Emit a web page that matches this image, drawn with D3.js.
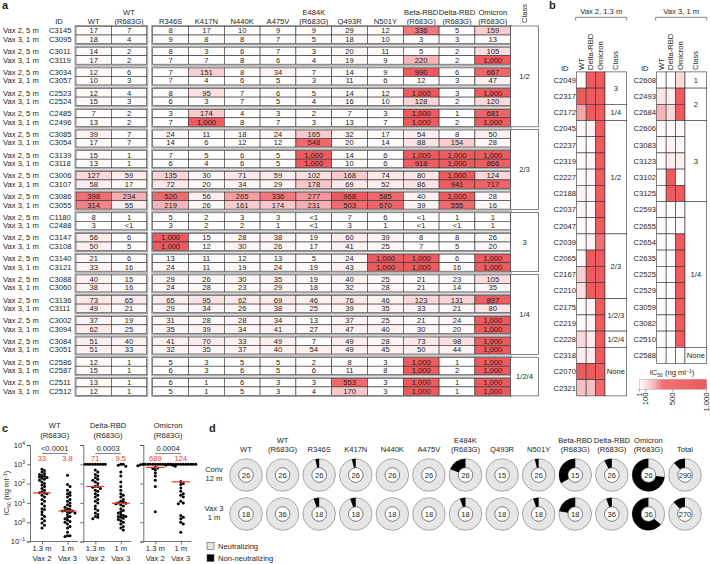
<!DOCTYPE html>
<html>
<head>
<meta charset="utf-8">
<script src="https://cdn.jsdelivr.net/npm/d3@7"></script>
<style>
body{margin:0;background:#fff}
svg{font-family:"Liberation Sans",Arial,sans-serif}
text{font-size:7.6px;fill:#231f20}
.panel{font-size:11px;font-weight:bold}
</style>
</head>
<body>
<svg id="fig" width="710" height="564"></svg>
<script>
// ---------- panel a data
const ROW_GROUPS = ["Vax 2, 5 m","Vax 3, 1 m"];
const IDS_A = ["C3145","C3095","C3011","C3119","C3034","C3057","C2523","C2524","C2485","C2496",
  "C3085","C3054","C3139","C3118","C3006","C3107","C3086","C3055","C1180","C2488",
  "C3147","C3108","C3140","C3121","C3088","C3060","C3136","C3111","C3002","C3094",
  "C3084","C3051","C2586","C2587","C2511","C2512"];
const COLS_A1 = ["WT","WT\n(R683G)"];
const COLS_A2 = ["R346S","K417N","N440K","A475V","E484K\n(R683G)","Q493R","N501Y","Beta-RBD\n(R683G)","Delta-RBD\n(R683G)","Omicron\n(R683G)"];
// 0 stands for "<1"
const IC50_A = [
  [17,7,8,17,10,9,9,29,12,336,5,159],
  [18,4,9,8,8,7,5,18,10,3,3,13],
  [14,2,8,3,6,7,3,20,11,5,2,105],
  [17,2,7,7,8,6,4,19,9,220,2,1000],
  [12,6,7,151,8,34,7,14,9,990,6,667],
  [10,3,7,4,6,5,3,11,6,12,3,47],
  [12,4,8,95,7,6,5,14,12,1000,3,1000],
  [15,3,6,3,7,5,4,16,10,128,2,120],
  [7,2,3,174,4,3,2,7,3,1000,1,681],
  [13,2,7,1000,8,7,3,13,7,1000,2,1000],
  [39,7,24,11,18,24,165,32,17,54,8,50],
  [17,7,14,6,12,12,548,20,14,88,154,28],
  [15,1,7,5,6,5,1000,14,6,1000,1000,1000],
  [13,1,6,4,6,5,1000,10,6,918,1000,866],
  [127,59,135,30,71,59,102,168,74,80,1000,124],
  [58,17,72,20,34,29,178,69,52,86,941,717],
  [398,234,520,56,265,336,277,968,585,40,1000,28],
  [314,55,219,26,161,174,231,503,670,39,555,16],
  [8,1,5,2,3,3,0,7,6,0,1,1],
  [3,0,3,2,2,1,0,3,1,0,0,1],
  [56,6,1000,15,28,38,19,60,39,8,8,26],
  [50,5,1000,12,30,26,17,41,25,7,5,20],
  [21,6,13,11,12,13,5,24,1000,1000,6,1000],
  [33,16,24,11,19,24,19,43,1000,1000,16,1000],
  [40,15,29,26,30,35,19,40,25,21,23,105],
  [38,16,24,28,23,29,18,32,28,21,14,35],
  [73,65,65,95,62,69,46,76,46,123,131,897],
  [49,21,29,34,26,38,25,39,35,33,21,80],
  [37,19,31,28,28,34,13,37,25,21,24,1000],
  [62,25,35,39,34,41,27,47,40,30,20,1000],
  [51,40,41,70,33,49,7,49,28,73,98,1000],
  [51,33,32,35,37,40,54,49,45,50,44,1000],
  [12,1,5,3,5,5,2,8,3,1000,1,1000],
  [15,1,6,3,6,5,6,11,8,1000,2,1000],
  [13,1,6,1,6,3,3,553,3,1000,1,1000],
  [12,1,5,1,5,3,4,170,3,1000,1,1000]
];
const CLASS_A = ["1/2","2/3","3","1/4","1/2/4"];
const CLASS_A_PAIRS = [5,4,3,4,2];

// ---------- panel b data
const B_COLS = ["WT","Delta-RBD","Omicron"];
const B2_IDS = ["C2049","C2317","C2172","C2045","C2237","C2319","C2227","C2188","C2037","C2047",
  "C2039","C2065","C2167","C2210","C2175","C2219","C2228","C2318","C2070","C2321"];
const B2_IC50 = [[5,1000,1000],[1000,1000,1000],[250,1000,1000],[25,40,1000],[5,15,1000],
  [5,30,1000],[10,30,1000],[40,30,1000],[40,20,1000],[15,15,1000],[5,40,350],[5,1000,1000],
  [150,1000,1000],[100,1000,1000],[5,30,1000],[5,30,1000],[120,60,1000],[60,60,1000],
  [1000,1000,1000],[200,200,600]];
const B2_CLASS = ["3","1/4","1/2","2/3","1/2/3","1/2/4","None"];
const B2_CLASS_N = [2,1,7,4,2,1,3];
const B3_IDS = ["C2608","C2493","C2684","C2606","C3083","C3123","C3102","C3125","C2593","C2655",
  "C2654","C2635","C2525","C2529","C3059","C3082","C2510","C2588"];
const B3_IC50 = [[5,5,120],[80,60,1000],[220,120,1000],[20,20,30],[20,40,30],[10,60,50],
  [5,1000,10],[10,1000,1000],[5,10,20],[5,10,20],[5,5,1000],[5,5,1000],[5,5,1000],
  [5,5,1000],[5,5,1000],[5,5,1000],[5,5,1000],[5,5,10]];
const B3_CLASS = ["1","2","3","1/4","None"];
const B3_CLASS_N = [1,2,5,9,1];
const LEGEND_TICKS = [1,100,500,1000];

// ---------- panel c data
const C_PANELS = ["WT\n(R683G)","Delta-RBD\n(R683G)","Omicron\n(R683G)"];
const C_GROUPS = ["1.3 m\nVax 2","1 m\nVax 3"];
const C_PVALS = ["<0.0001","0.0003","0.0004"];
const C_MEDIANS = [[33,3.8],[71,9.5],[689,124]];
const C_WT_V2 = [550,480,400,330,300,260,240,220,210,190,170,150,120,100,85,70,55,45,38,34,33,30,25,20,15,12,9,7,5,4.5,3.5,2.5,2,1.5,1.2,0.9,0.7,0.5];
const C_WT_V3 = [270,90,70,45,35,30,25,20,15,12,10,8,7,6,5,4.5,4,3.8,3.8,3.5,3.2,3,2.5,2,1.8,1.5,1.3,1.1,1,0.8,0.6,0.5,0.3,0.2,0.2,0.18];
const C_DELTA_V2 = [1000,1000,1000,1000,1000,1000,1000,1000,1000,500,400,300,250,200,170,150,120,100,72,70,65,55,45,40,30,25,20,15,12,10,7,5,4,3,2.5,2,1.8,1.5];
const C_DELTA_V3 = [1000,1000,900,800,400,250,120,70,45,30,25,20,15,12,11,10,9.5,9,8,7,5,4,3.5,3,2.5,2.2,2,2,1.8,1.6,1.4,1.2,1,0.8,0.6,0.5,0.4];
const C_OMI_V2 = [1000,1000,1000,1000,1000,1000,1000,1000,1000,1000,1000,1000,950,900,850,800,700,650,600,500,350,250,150,70,3.5];
const C_OMI_V3 = [1000,1000,1000,1000,1000,1000,1000,1000,1000,1000,1000,1000,900,130,100,90,60,40,30,25,20,12,10,9,2.2,1.8,1.5,1,0.8,0.3];
const C_VALUES = [[C_WT_V2,C_WT_V3],[C_DELTA_V2,C_DELTA_V3],[C_OMI_V2,C_OMI_V3]];

// ---------- panel d data
const D_ANTIGENS = ["WT","WT\n(R683G)","R346S","K417N","N440K","A475V","E484K\n(R683G)","Q493R","N501Y","Beta-RBD\n(R683G)","Delta-RBD\n(R683G)","Omicron\n(R683G)","Total"];
const D_ROWS = ["Conv\n12 m","Vax 3\n1 m"];
const D_CONV_N = [26,26,26,26,26,26,26,15,26,15,26,26,290];
const D_CONV_NON = [0,0,1,1,0,0,5,0,1,5,2,19,34];
const D_VAX3_N = [18,36,18,18,18,18,18,18,18,18,36,36,270];
const D_VAX3_NON = [0,0,1,1,0,0,1,0,1,4,2,23,33];

const svg = d3.select("#fig");
const RED = "#ee5a5e";
const colorIC = d3.scaleLinear()
  .domain([0,100,200,350,1000])
  .range(["#ffffff","#fbdfe1","#f7c0c3","#f07175",RED])
  .clamp(true);
const fmt = v => v === 0 ? "<1" : d3.format(",")(v);

function multiline(sel, label, x, yLast, lh){
  const lines = label.split("\n");
  lines.forEach((l,i)=>{
    sel.append("text").attr("x",x).attr("y",yLast-(lines.length-1-i)*lh)
      .attr("text-anchor","middle").text(l);
  });
}

svg.append("text").attr("class","panel").attr("x",2).attr("y",9).text("a");
svg.append("text").attr("class","panel").attr("x",549).attr("y",9).text("b");
svg.append("text").attr("class","panel").attr("x",2).attr("y",432).text("c");
svg.append("text").attr("class","panel").attr("x",209).attr("y",432).text("d");

// ================= panel a
const gA = svg.append("g");
const xA1 = d3.scaleBand().domain(COLS_A1).range([76,146.7]);
const xA2 = d3.scaleBand().domain(COLS_A2).range([152.7,510.7]);
const yPair = d3.scaleLinear().domain([0,1]).range([26.5,47.2]);
const ROW_H = 8.5;
const CLASS_X = [510.7,538.3];

gA.append("text").attr("x",59).attr("y",23.7).attr("text-anchor","middle").text("ID");
COLS_A1.forEach(c=>multiline(gA,c,xA1(c)+xA1.bandwidth()/2,23.7,8.8));
COLS_A2.forEach(c=>multiline(gA,c,xA2(c)+xA2.bandwidth()/2,23.7,8.8));
gA.append("text").attr("transform",`translate(${(CLASS_X[0]+CLASS_X[1])/2+2.5},23) rotate(-90)`).text("Class");

IDS_A.forEach((id,i)=>{
  const p = Math.floor(i/2), r = i%2;
  const y = yPair(p)+r*ROW_H;
  gA.append("text").attr("x",3).attr("y",y+ROW_H/2+2.7).text(ROW_GROUPS[r]);
  gA.append("text").attr("x",49).attr("y",y+ROW_H/2+2.7).text(id);
});

// outer grey frames for each pair
d3.range(IDS_A.length/2).forEach(p=>{
  [[xA1,COLS_A1],[xA2,COLS_A2]].forEach(([sc,cols])=>{
    gA.append("rect").attr("x",sc.range()[0]-1).attr("y",yPair(p)-1)
      .attr("width",sc.range()[1]-sc.range()[0]+2).attr("height",2*ROW_H+2)
      .attr("fill","none").attr("stroke","#9a9a9a").attr("stroke-width",1);
  });
});

IC50_A.forEach((row,i)=>{
  const p = Math.floor(i/2), r = i%2;
  const y = yPair(p)+r*ROW_H;
  row.forEach((v,j)=>{
    const sc = j<2 ? xA1 : xA2;
    const key = j<2 ? COLS_A1[j] : COLS_A2[j-2];
    gA.append("rect").attr("x",sc(key)).attr("y",y).attr("width",sc.bandwidth()).attr("height",ROW_H)
      .attr("fill",colorIC(v)).attr("stroke","#333").attr("stroke-width",0.6);
    gA.append("text").attr("x",sc(key)+sc.bandwidth()/2).attr("y",y+ROW_H/2+2.7)
      .attr("text-anchor","middle").text(fmt(v));
  });
});

let pStart = 0;
CLASS_A.forEach((c,k)=>{
  const n = CLASS_A_PAIRS[k];
  const y0 = yPair(pStart)-0.5, y1 = yPair(pStart+n-1)+2*ROW_H+0.5;
  gA.append("rect").attr("x",CLASS_X[0]).attr("y",y0).attr("width",CLASS_X[1]-CLASS_X[0]).attr("height",y1-y0)
    .attr("fill","#fff").attr("stroke","#333").attr("stroke-width",0.6);
  gA.append("text").attr("x",(CLASS_X[0]+CLASS_X[1])/2).attr("y",(y0+y1)/2+2.7)
    .attr("text-anchor","middle").text(c);
  pStart += n;
});

// ================= panel b
function heatB(x0, ids, vals, classes, classN, title){
  const g = svg.append("g");
  const x = d3.scaleBand().domain(B_COLS).range([x0, x0+28.3]);
  const cx = [x0+28.3, x0+50];
  const y = d3.scaleBand().domain(ids).range([71.9, 71.9+ids.length*16.2]);
  // bracket title
  g.append("text").attr("x",(x0-1+cx[1])/2).attr("y",14).attr("text-anchor","middle").text(title);
  g.append("path").attr("d",`M${x0-1},20.5V17.3H${cx[1]}V20.5`).attr("fill","none").attr("stroke","#333").attr("stroke-width",0.6);
  g.append("text").attr("x",x0-12).attr("y",70.5).attr("text-anchor","middle").text("ID");
  B_COLS.concat(["Class"]).forEach((c,i)=>{
    const xc = i<3 ? x(c)+x.bandwidth()/2 : (cx[0]+cx[1])/2;
    g.append("text").attr("transform",`translate(${xc+2.6},70) rotate(-90)`).text(c);
  });
  ids.forEach((id,i)=>{
    g.append("text").attr("x",x0-12).attr("y",y(id)+y.bandwidth()/2+2.7).attr("text-anchor","middle").text(id);
    vals[i].forEach((v,j)=>{
      g.append("rect").attr("x",x(B_COLS[j])).attr("y",y(id)).attr("width",x.bandwidth()).attr("height",y.bandwidth())
        .attr("fill",colorIC(v)).attr("stroke","#333").attr("stroke-width",0.6);
    });
  });
  let s = 0;
  classes.forEach((c,k)=>{
    const y0 = y(ids[s]), y1 = y(ids[s+classN[k]-1])+y.bandwidth();
    g.append("rect").attr("x",cx[0]).attr("y",y0).attr("width",cx[1]-cx[0]).attr("height",y1-y0)
      .attr("fill","#fff").attr("stroke","#333").attr("stroke-width",0.6);
    g.append("text").attr("x",(cx[0]+cx[1])/2).attr("y",(y0+y1)/2+2.7).attr("text-anchor","middle").text(c);
    s += classN[k];
  });
}
heatB(576.7, B2_IDS, B2_IC50, B2_CLASS, B2_CLASS_N, "Vax 2, 1.3 m");
heatB(656.7, B3_IDS, B3_IC50, B3_CLASS, B3_CLASS_N, "Vax 3, 1 m");

// colour legend
const gL = svg.append("g");
const xLeg = d3.scaleLinear().domain([1,1000]).range([639.3,706.7]);
const grad = svg.append("defs").append("linearGradient").attr("id","icgrad");
d3.range(0,1001,50).forEach(v=>grad.append("stop").attr("offset",(v/1000*100)+"%").attr("stop-color",colorIC(v)));
const legT = gL.append("text").attr("x",672).attr("y",375).attr("text-anchor","middle");
legT.append("tspan").text("IC");
legT.append("tspan").attr("font-size","5px").attr("dy",1.5).text("50");
legT.append("tspan").attr("dy",-1.5).text(" (ng ml");
legT.append("tspan").attr("font-size","5px").attr("dy",-2.5).text("−1");
legT.append("tspan").attr("dy",2.5).text(")");
gL.append("rect").attr("x",639.3).attr("y",379.3).attr("width",67.4).attr("height",10)
  .attr("fill","url(#icgrad)").attr("stroke","#999").attr("stroke-width",0.4);
LEGEND_TICKS.forEach(t=>{
  gL.append("line").attr("x1",xLeg(t)).attr("x2",xLeg(t)).attr("y1",389.3).attr("y2",391.5).attr("stroke","#333").attr("stroke-width",0.5);
  gL.append("text").attr("transform",`translate(${xLeg(t)+2.5},392.5) rotate(-90)`).attr("text-anchor","end").text(d3.format(",")(t));
});

// ================= panel c
const yC = d3.scaleLog().domain([0.1,1e4]).range([541.5,445]);
const C_AXIS_X = [30,83.3,143.3];
const gC = svg.append("g");

const yl = gC.append("text").attr("transform","translate(9,493) rotate(-90)").attr("text-anchor","middle");
yl.append("tspan").text("IC");
yl.append("tspan").attr("font-size","5px").attr("dy",1.5).text("50");
yl.append("tspan").attr("dy",-1.5).text(" (ng ml");
yl.append("tspan").attr("font-size","5px").attr("dy",-2.5).text("−1");
yl.append("tspan").attr("dy",2.5).text(")");

function swarm(vals, cx, step){
  const pts = vals.map(v=>({v, y:yC(v)})).sort((a,b)=>a.y-b.y);
  const placed = [];
  pts.forEach(p=>{
    for(let k=0;;k++){
      const off = k===0 ? 0 : (k%2 ? 1 : -1)*Math.ceil(k/2)*step;
      if(placed.every(q=>Math.hypot(q.x-(cx+off), q.y-p.y) >= step)){ p.x = cx+off; break; }
    }
    placed.push(p);
  });
  return placed;
}

C_PANELS.forEach((name,k)=>{
  const ax = C_AXIS_X[k];
  const g = gC.append("g");
  const x = d3.scalePoint().domain(C_GROUPS).range([ax+12, ax+37.5]);
  const yAxis = d3.axisLeft(yC).tickValues([0.1,1,10,100,1000,10000]).tickSize(3).tickFormat("");
  g.append("g").attr("transform",`translate(${ax},0)`).call(yAxis)
    .call(s=>s.selectAll("path,line").attr("stroke","#333").attr("stroke-width",0.7));
  const xAxis = d3.axisBottom(x).tickSize(3).tickFormat("");
  g.append("g").attr("transform",`translate(0,${yC(0.1)})`).call(xAxis)
    .call(s=>s.select("path").attr("d",`M${ax},0H${ax+48}`))
    .call(s=>s.selectAll("path,line").attr("stroke","#333").attr("stroke-width",0.7));
  C_GROUPS.forEach(gr=>multiline(g,gr,x(gr),561,10));
  multiline(g,name,(x.range()[0]+x.range()[1])/2,438,10);
  g.append("line").attr("x1",x.range()[0]).attr("x2",x.range()[1]).attr("y1",453.5).attr("y2",453.5)
    .attr("stroke","#8a8a8a").attr("stroke-width",1.2);
  g.append("text").attr("x",(x.range()[0]+x.range()[1])/2).attr("y",451).attr("text-anchor","middle").text(C_PVALS[k]);
  C_GROUPS.forEach((gr,j)=>{
    const pts = swarm(C_VALUES[k][j], x(gr), 2.5);
    g.selectAll(null).data(pts).join("circle").attr("cx",d=>d.x).attr("cy",d=>d.y).attr("r",1.5).attr("fill","#000");
    const m = C_MEDIANS[k][j];
    g.append("line").attr("x1",x(gr)-9).attr("x2",x(gr)+9).attr("y1",yC(m)).attr("y2",yC(m))
      .attr("stroke","#ee3b2f").attr("stroke-width",1.2);
    g.append("text").attr("x",x(gr)).attr("y",461).attr("text-anchor","middle").style("fill","#ee3b2f").text(m);
  });
  if(k===0){
    [0.1,1,10,100,1000,10000].forEach(t=>{
      const tx = g.append("text").attr("x",ax-5).attr("y",yC(t)+2.6).attr("text-anchor","end");
      tx.append("tspan").text("10");
      tx.append("tspan").attr("font-size","5px").attr("dy",-3).text(d3.format("d")(Math.round(Math.log10(t))).replace("-","−"));
    });
  }
});

// ================= panel d
const gD = svg.append("g");
const xD = d3.scalePoint().domain(D_ANTIGENS).range([246,685]);
const yD = d3.scalePoint().domain(D_ROWS).range([475,514]);
const R_OUT = 16.3, R_IN = 7.3;
const arcD = d3.arc().innerRadius(R_IN).outerRadius(R_OUT);
D_ANTIGENS.forEach(a=>multiline(gD,a,xD(a),452,9));
D_ROWS.forEach(r=>multiline(gD,r,214,yD(r)+6,9.5));
[[D_CONV_N,D_CONV_NON],[D_VAX3_N,D_VAX3_NON]].forEach(([ns,nons],ri)=>{
  D_ANTIGENS.forEach((a,i)=>{
    const g = gD.append("g").attr("transform",`translate(${xD(a)},${yD(D_ROWS[ri])})`);
    g.append("circle").attr("r",R_OUT).attr("fill","#e6e6e6").attr("stroke","#777").attr("stroke-width",0.6);
    const frac = nons[i]/ns[i];
    if(frac>0) g.append("path").attr("d",arcD({startAngle:-2*Math.PI*frac,endAngle:0})).attr("fill","#000");
    g.append("circle").attr("r",R_IN).attr("fill","#fff").attr("stroke","#333").attr("stroke-width",0.6);
    g.append("text").attr("y",2.7).attr("text-anchor","middle").text(ns[i]);
  });
});
const legD = [["Neutralizing","#e6e6e6"],["Non-neutralizing","#000"]];
legD.forEach(([t,c],i)=>{
  gD.append("rect").attr("x",207).attr("y",542.5+i*12).attr("width",7).attr("height",7)
    .attr("fill",c).attr("stroke","#555").attr("stroke-width",0.6);
  gD.append("text").attr("x",218).attr("y",549+i*12).text(t);
});
</script>
</body>
</html>
